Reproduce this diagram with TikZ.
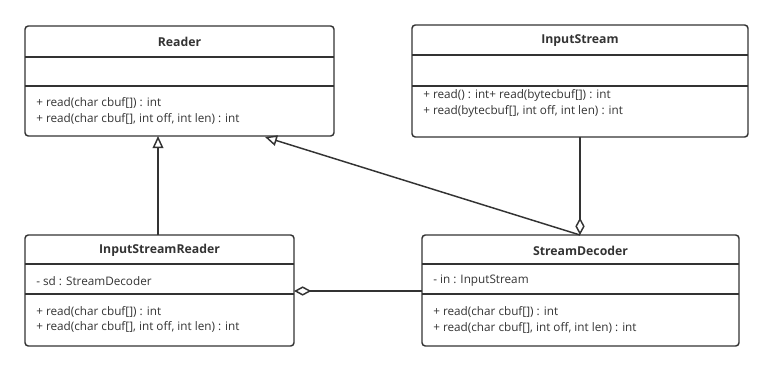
\documentclass[tikz,border=0pt]{standalone}
\usepackage{fontspec}
\setmainfont{Open Sans}
\usetikzlibrary{arrows.meta}
\definecolor{ln}{HTML}{333333}
\begin{document}
\begin{tikzpicture}[x=0.75pt,y=-0.75pt,
  box/.style={draw=ln,line width=1.1pt,rounded corners=2.5pt},
  sep/.style={draw=ln,line width=1.1pt},
  ttl/.style={font=\fontsize{9.2}{11}\selectfont\bfseries,text=ln},
  txt/.style={font=\fontsize{8.8}{11}\selectfont,text=ln,anchor=west,inner sep=0pt},
  gen/.style={draw=ln,line width=1.1pt,-{Triangle[open,length=9pt,width=8pt]}},
  agg/.style={draw=ln,line width=1.1pt,-{Diamond[open,length=13pt,width=7pt]}}]
\useasboundingbox (0,0) rectangle (773,371);
% Reader
\draw[box] (25,26) rectangle (334,136);
\coordinate (rdS1) at (158,136);
\coordinate (rdS2) at (265,137);
\draw[sep] (25,57) -- (334,57);
\draw[sep] (25,86) -- (334,86);
\node[ttl] (rdt) at (179.5,42) {Reader};
\node[txt] (rdm1) at (36,103) {+ read(char cbuf[]) : int};
\node[txt] (rdm2) at (36,119) {+ read(char cbuf[], int off, int len) : int};
% InputStream
\draw[box] (412,25) rectangle (748,137);
\draw[sep] (412,55) -- (748,55);
\draw[sep] (412,86) -- (748,86);
\node[ttl] (ist) at (580,41) {InputStream};
\node[txt] (ism1) at (423,95) {+ read() : int+ read(bytecbuf[]) : int};
\node[txt] (ism2) at (423,111) {+ read(bytecbuf[], int off, int len) : int};
\coordinate (isB) at (580,137);
% InputStreamReader
\draw[box] (25,235) rectangle (294,346);
\draw[sep] (25,264) -- (294,264);
\draw[sep] (25,294) -- (294,294);
\node[ttl] (isrt) at (159.5,250) {InputStreamReader};
\node[txt] (isra) at (36,281) {- sd : StreamDecoder};
\node[txt] (isrm1) at (36,312) {+ read(char cbuf[]) : int};
\node[txt] (isrm2) at (36,327) {+ read(char cbuf[], int off, int len) : int};
\coordinate (isrT) at (158,235);
\coordinate (isrR) at (294,291);
% StreamDecoder
\draw[box] (422,235) rectangle (739,346);
\draw[sep] (422,264) -- (739,264);
\draw[sep] (422,294) -- (739,294);
\node[ttl] (sdt) at (580.5,251) {StreamDecoder};
\node[txt] (sda) at (433,281) {- in : InputStream};
\node[txt] (sdm1) at (433,312) {+ read(char cbuf[]) : int};
\node[txt] (sdm2) at (433,328) {+ read(char cbuf[], int off, int len) : int};
\coordinate (sdT) at (580,235);
\coordinate (sdL) at (422,291);
% connectors
\draw[gen] (isrT) -- (rdS1);
\draw[gen] (sdT) -- (rdS2);
\draw[agg] (isB) -- (sdT);
\draw[agg] (sdL) -- (isrR);
\end{tikzpicture}
\end{document}
